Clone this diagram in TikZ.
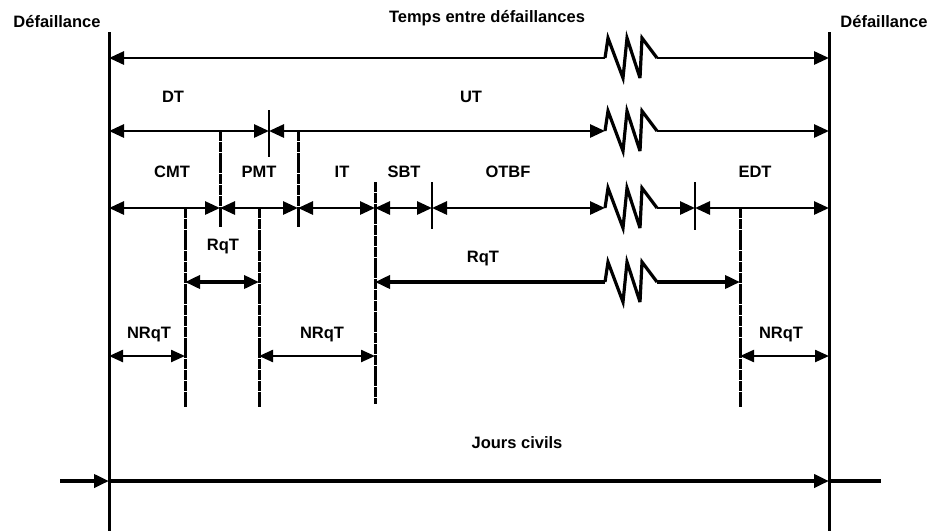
\documentclass[tikz,border=0pt]{standalone}
\usepackage{fontspec}
\setmainfont{Liberation Sans}
\usetikzlibrary{arrows.meta}
\tikzset{
  lbl/.style={font=\bfseries\fontsize{16.5}{18}\selectfont, inner sep=0pt, anchor=base},
  bigtip/.tip={Triangle[length=15pt,width=13pt]},
  smalltip/.tip={Triangle[length=14pt,width=12pt]},
  hline/.style={line width=2.8pt},
  thin/.style={line width=2.3pt},
  thick/.style={line width=3.6pt},
  vmain/.style={line width=3pt},
  vdash/.style={line width=3pt, dash pattern=on 10pt off 0.8pt},
  tick/.style={line width=2.8pt},
  zz/.pic={\draw[line width=3.2pt, line join=miter, miter limit=5] (0,0) -- (3,-20) -- (18,20) -- (22,-20) -- (35,20) -- (37,-20) -- (52,0);}
}
\begin{document}
\begin{tikzpicture}[x=1pt,y=-1pt]
\useasboundingbox (0,0) rectangle (933,531);
% coordinates
\coordinate (L0) at (109,32); \coordinate (Lb) at (109,531);
\coordinate (R0) at (829,32); \coordinate (Rb) at (829,531);
% row 1
\coordinate (a1) at (109,58); \coordinate (z1s) at (605,58); \coordinate (z1e) at (657,58); \coordinate (b1) at (829,58);
% row 2
\coordinate (a2) at (109,131); \coordinate (t2) at (269,131); \coordinate (z2s) at (605,131); \coordinate (z2e) at (657,131); \coordinate (b2) at (829,131);
% row 3
\coordinate (a3) at (109,208); \coordinate (c3) at (220,208); \coordinate (p3) at (298,208); \coordinate (i3) at (375,208);
\coordinate (s3) at (432,208); \coordinate (z3s) at (605,208); \coordinate (z3e) at (657,208); \coordinate (e3) at (695,208); \coordinate (b3) at (829,208);
% row 4
\coordinate (r4a) at (185,282); \coordinate (r4b) at (259,282); \coordinate (i4) at (375,282);
\coordinate (z4s) at (605,282); \coordinate (z4e) at (657,282); \coordinate (d4) at (740,282);
% row 5
\coordinate (a5) at (109,356); \coordinate (r5a) at (185,356); \coordinate (r5b) at (259,356);
\coordinate (i5) at (375,356); \coordinate (d5) at (740,356); \coordinate (b5) at (829,356);
% bottom
\coordinate (g0) at (60,481); \coordinate (a6) at (109,481); \coordinate (b6) at (829,481); \coordinate (g1) at (881,481);
% verticals
\coordinate (c2) at (220,131); \coordinate (c3b) at (220,228);
\coordinate (p2) at (298,131); \coordinate (p3b) at (298,228);
\coordinate (i3t) at (375,182); \coordinate (ib) at (375,404);
\coordinate (r4at) at (185,208); \coordinate (r4ab) at (185,407);
\coordinate (r4bt) at (259,208); \coordinate (r4bb) at (259,407);
\coordinate (dt) at (740,208); \coordinate (db) at (740,407);
\coordinate (t2t) at (269,110); \coordinate (t2b) at (269,157);
\coordinate (s3t) at (432,182); \coordinate (s3b) at (432,229);
\coordinate (e3t) at (695,182); \coordinate (e3b) at (695,230);

% main verticals
\draw[vmain] (L0) -- (Lb);
\draw[vmain] (R0) -- (Rb);
% dashed verticals
\draw[vdash] (c2) -- (c3b);
\draw[vdash] (p2) -- (p3b);
\draw[vdash] (i3t) -- (ib);
\draw[vdash] (r4at) -- (r4ab);
\draw[vdash] (r4bt) -- (r4bb);
\draw[vdash] (dt) -- (db);
% ticks
\draw[tick] (t2t) -- (t2b);
\draw[tick] (s3t) -- (s3b);
\draw[tick] (e3t) -- (e3b);

% row 1
\draw[hline, bigtip-] (a1) -- (z1s);
\pic at (z1s) {zz};
\draw[hline, -bigtip] (z1e) -- (b1);
% row 2
\draw[hline, bigtip-bigtip] (a2) -- (t2);
\draw[hline, bigtip-bigtip] (t2) -- (z2s);
\pic at (z2s) {zz};
\draw[hline, -bigtip] (z2e) -- (b2);
% row 3
\draw[hline, bigtip-bigtip] (a3) -- (c3);
\draw[hline, bigtip-bigtip] (c3) -- (p3);
\draw[hline, bigtip-bigtip] (p3) -- (i3);
\draw[hline, bigtip-bigtip] (i3) -- (s3);
\draw[hline, bigtip-bigtip] (s3) -- (z3s);
\pic at (z3s) {zz};
\draw[hline, -bigtip] (z3e) -- (e3);
\draw[hline, bigtip-bigtip] (e3) -- (b3);
% row 4
\draw[thick, bigtip-bigtip] (r4a) -- (r4b);
\draw[thick, bigtip-] (i4) -- (z4s);
\pic at (z4s) {zz};
\draw[thick, -bigtip] (z4e) -- (d4);
% row 5
\draw[thin, smalltip-smalltip] (a5) -- (r5a);
\draw[thin, smalltip-smalltip] (r5b) -- (i5);
\draw[thin, smalltip-smalltip] (d5) -- (b5);
% bottom
\draw[line width=4.8pt, -bigtip] (g0) -- (a6);
\draw[line width=4.8pt, -bigtip] (a6) -- (b6);
\draw[line width=4.8pt] (b6) -- (g1);

% labels
\node[lbl] (defL) at (57,27) {Défaillance};
\node[lbl] (defR) at (884,27) {Défaillance};
\node[lbl] (temps) at (487,22) {Temps entre défaillances};
\node[lbl] (dt-l) at (173,102) {DT};
\node[lbl] (ut-l) at (471,102) {UT};
\node[lbl] (cmt) at (172,177) {CMT};
\node[lbl] (pmt) at (259,177) {PMT};
\node[lbl] (it) at (342,177) {IT};
\node[lbl] (sbt) at (404,177) {SBT};
\node[lbl] (otbf) at (508,177) {OTBF};
\node[lbl] (edt) at (755,177) {EDT};
\node[lbl] (rqt1) at (223,250) {RqT};
\node[lbl] (rqt2) at (483,262) {RqT};
\node[lbl] (nrqt1) at (149,338) {NRqT};
\node[lbl] (nrqt2) at (322,338) {NRqT};
\node[lbl] (nrqt3) at (781,338) {NRqT};
\node[lbl] (jours) at (517,448) {Jours civils};
\end{tikzpicture}
\end{document}
